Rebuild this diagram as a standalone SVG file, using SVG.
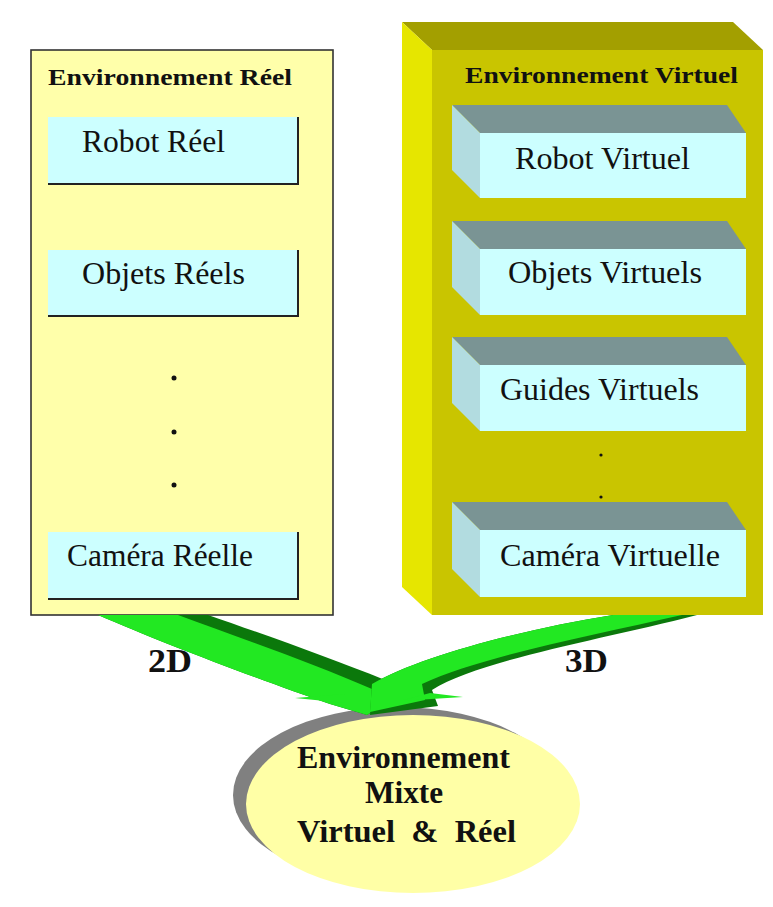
<svg xmlns="http://www.w3.org/2000/svg" width="773" height="907" viewBox="0 0 773 907">
<style>
.t{font-family:"Liberation Serif","Times New Roman",serif;fill:#111;}
.b{font-weight:bold;}
.lbox{fill:#CCFFFF;}
.edge{fill:none;stroke:#222;stroke-width:2;}
.front{fill:#CCFFFF;}
.side{fill:#B2DCE0;}
.top{fill:#7A9494;}
.lg{fill:#22E822;}
.dg{fill:#0B780B;}
</style>
<rect width="773" height="907" fill="#ffffff"/>
<g id="env-reel">
<rect x="31" y="50" width="302" height="565" fill="#FFFFAA" stroke="#333" stroke-width="1.6"/>
<text class="t b" x="48" y="85" font-size="23" textLength="244" lengthAdjust="spacingAndGlyphs">Environnement Réel</text>
</g>
<g id="robot-reel">
<rect class="lbox" x="48" y="117" width="250" height="67"/>
<polyline class="edge" points="48,184 298,184 298,117"/>
<text class="t" x="82" y="152" font-size="31" textLength="143" lengthAdjust="spacingAndGlyphs">Robot Réel</text>
</g>
<g id="objets-reels">
<rect class="lbox" x="48" y="250" width="250" height="66"/>
<polyline class="edge" points="48,316 298,316 298,250"/>
<text class="t" x="82" y="284" font-size="31" textLength="163" lengthAdjust="spacingAndGlyphs">Objets Réels</text>
</g>
<g id="dots-reel" fill="#111">
<circle cx="174" cy="378" r="2.5"/>
<circle cx="174" cy="432" r="2.5"/>
<circle cx="174" cy="485" r="2.5"/>
</g>
<g id="camera-reelle">
<rect class="lbox" x="48" y="532" width="250" height="67"/>
<polyline class="edge" points="48,599 298,599 298,532"/>
<text class="t" x="67" y="566" font-size="31" textLength="186" lengthAdjust="spacingAndGlyphs">Caméra Réelle</text>
</g>
<g id="env-virtuel">
<polygon points="402,22 733,22 763,50 432,50" fill="#A39F00"/>
<polygon points="402,22 432,50 432,615 402,587" fill="#E6E600"/>
<rect x="432" y="50" width="331" height="565" fill="#C9C500"/>
<text class="t b" x="465" y="83" font-size="23" textLength="273" lengthAdjust="spacingAndGlyphs">Environnement Virtuel</text>
</g>
<g id="robot-virtuel">
<polygon class="top" points="452,105 727,105 746,133 480,133"/>
<polygon class="side" points="452,105 480,133 480,198 452,170"/>
<rect class="front" x="480" y="133" width="266" height="65"/>
<text class="t" x="515" y="169" font-size="31" textLength="175" lengthAdjust="spacingAndGlyphs">Robot Virtuel</text>
</g>
<g id="objets-virtuels">
<polygon class="top" points="452,221 727,221 746,249 480,249"/>
<polygon class="side" points="452,221 480,249 480,315 452,287"/>
<rect class="front" x="480" y="249" width="266" height="66"/>
<text class="t" x="508" y="283" font-size="31" textLength="194" lengthAdjust="spacingAndGlyphs">Objets Virtuels</text>
</g>
<g id="guides-virtuels">
<polygon class="top" points="452,337 727,337 746,365 480,365"/>
<polygon class="side" points="452,337 480,365 480,431 452,403"/>
<rect class="front" x="480" y="365" width="266" height="66"/>
<text class="t" x="500" y="400" font-size="31" textLength="199" lengthAdjust="spacingAndGlyphs">Guides Virtuels</text>
</g>
<g id="dots-virtuel" fill="#111">
<circle cx="601" cy="455" r="1.6"/>
<circle cx="601" cy="497" r="1.6"/>
</g>
<g id="camera-virtuelle">
<polygon class="top" points="452,502 727,502 746,530 480,530"/>
<polygon class="side" points="452,502 480,530 480,597 452,569"/>
<rect class="front" x="480" y="530" width="266" height="67"/>
<text class="t" x="500" y="566" font-size="31" textLength="220" lengthAdjust="spacingAndGlyphs">Caméra Virtuelle</text>
</g>
<g id="env-mixte">
<ellipse cx="398" cy="795" rx="165" ry="88" fill="#808080"/>
<ellipse cx="413" cy="804" rx="167" ry="89" fill="#FFFFA6"/>
<text class="t b" x="297" y="768" font-size="31" textLength="213" lengthAdjust="spacingAndGlyphs">Environnement</text>
<text class="t b" x="365" y="803" font-size="31" textLength="78" lengthAdjust="spacingAndGlyphs">Mixte</text>
<text class="t b" x="297" y="842" font-size="31" textLength="219" lengthAdjust="spacingAndGlyphs" xml:space="preserve">Virtuel  &amp;  Réel</text>
</g>
<g id="connectors">
<path class="dg" d="M98 615 L208 615 C260 633 330 658 385 680 L392 700 L367 715 L330 704 C260 680 160 642 98 615 Z"/>
<path class="lg" d="M98 615 L178 615 C240 638 310 662 372 689 L388 702 L367 715 L330 704 C260 680 160 642 98 615 Z"/>
<path class="lg" d="M295 698 L345 694 L345 703 Z"/>
<path class="dg" d="M613 615 L697 615 C600 640 480 660 432 690 L438 706 L370 715 L372 684 C420 656 520 630 613 615 Z"/>
<path class="lg" d="M613 615 L682 615 C590 636 482 656 422 684 L425 700 L370 712 L372 684 C420 656 520 630 613 615 Z"/>
<path class="lg" d="M400 701 L463 697 L430 693 Z"/>
<text class="t b" x="148" y="672" font-size="33" textLength="44" lengthAdjust="spacingAndGlyphs">2D</text>
<text class="t b" x="565" y="672" font-size="33" textLength="43" lengthAdjust="spacingAndGlyphs">3D</text>
</g>
</svg>
